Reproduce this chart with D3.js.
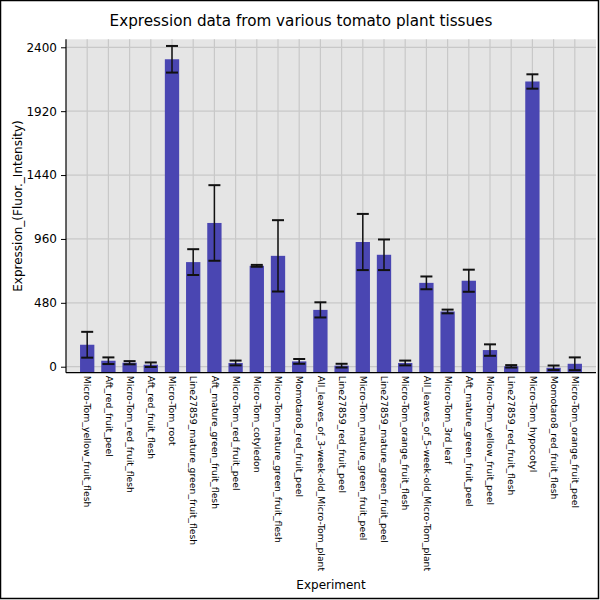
<!DOCTYPE html>
<html>
<head>
<meta charset="utf-8">
<script src="https://cdn.jsdelivr.net/npm/d3@7"></script>
<style>
body { margin: 0; background: #fff; }
svg text { font-family: "DejaVu Sans", sans-serif; }
</style>
</head>
<body>
<script>
const categories = [
  "Micro-Tom_yellow_fruit_flesh",
  "Aft_red_fruit_peel",
  "Micro-Tom_red_fruit_flesh",
  "Aft_red_fruit_flesh",
  "Micro-Tom_root",
  "Line27859_mature_green_fruit_flesh",
  "Aft_mature_green_fruit_flesh",
  "Micro-Tom_red_fruit_peel",
  "Micro-Tom_cotyledon",
  "Micro-Tom_mature_green_fruit_flesh",
  "Momotaro8_red_fruit_peel",
  "All_leaves_of_3-week-old_Micro-Tom_plant",
  "Line27859_red_fruit_peel",
  "Micro-Tom_mature_green_fruit_peel",
  "Line27859_mature_green_fruit_peel",
  "Micro-Tom_orange_fruit_flesh",
  "All_leaves_of_5-week-old_Micro-Tom_plant",
  "Micro-Tom_3rd_leaf",
  "Aft_mature_green_fruit_peel",
  "Micro-Tom_yellow_fruit_peel",
  "Line27859_red_fruit_flesh",
  "Micro-Tom_hypocotyl",
  "Momotaro8_red_fruit_flesh",
  "Micro-Tom_orange_fruit_peel"
];
const values = [165, 45, 30, 15, 2310, 786, 1080, 28, 758, 833, 40, 427, 8, 937, 841, 28, 630, 415, 646, 125, 3, 2143, -8, 22];
const errors = [97, 25, 12, 17, 100, 97, 284, 18, 7, 268, 18, 57, 14, 211, 115, 18, 48, 14, 83, 43, 9, 54, 17, 48];
const yTicks = [0, 480, 960, 1440, 1920, 2400];
const yDomain = [-45, 2460];

const W = 600, H = 600;
const pL = 66, pR = 596, pT = 39.3, pB = 372.7;

const svg = d3.select("body").append("svg").attr("width", W).attr("height", H);

svg.append("rect").attr("x", 0.5).attr("y", 0.5).attr("width", 598).attr("height", 598)
  .attr("fill", "#fff").attr("stroke", "#000").attr("stroke-width", 1.5);

const x = d3.scalePoint().domain(categories).range([pL, pR]).padding(1);
const y = d3.scaleLinear().domain(yDomain).range([pB, pT]);

// panel
svg.append("rect").attr("x", pL).attr("y", pT).attr("width", pR - pL).attr("height", pB - pT)
  .attr("fill", "#e5e5e5");

// grid
svg.append("g").selectAll("line").data(yTicks).join("line")
  .attr("x1", pL).attr("x2", pR).attr("y1", d => y(d)).attr("y2", d => y(d))
  .attr("stroke", "#c8c8c8").attr("stroke-width", 1.2);
svg.append("g").selectAll("line").data(categories).join("line")
  .attr("x1", d => x(d)).attr("x2", d => x(d)).attr("y1", pT).attr("y2", pB)
  .attr("stroke", "#c8c8c8").attr("stroke-width", 1.2);

const data = categories.map((c, i) => ({ c, v: values[i], e: errors[i] }));
const bw = x.step() * 0.675;

svg.append("g").selectAll("rect").data(data).join("rect")
  .attr("x", d => x(d.c) - bw / 2).attr("width", bw)
  .attr("y", d => y(d.v)).attr("height", d => y(yDomain[0]) - y(d.v))
  .attr("fill", "#4a46b2");

// error bars
const eg = svg.append("g").attr("stroke", "#111");
eg.selectAll("line.v").data(data).join("line").attr("class", "v")
  .attr("x1", d => x(d.c)).attr("x2", d => x(d.c))
  .attr("y1", d => y(d.v + d.e)).attr("y2", d => y(d.v - d.e))
  .attr("stroke-width", 1.5);
const cw = 6;
eg.selectAll("line.t").data(data).join("line").attr("class", "t")
  .attr("x1", d => x(d.c) - cw).attr("x2", d => x(d.c) + cw)
  .attr("y1", d => y(d.v + d.e)).attr("y2", d => y(d.v + d.e))
  .attr("stroke-width", 2);
eg.selectAll("line.b").data(data).join("line").attr("class", "b")
  .attr("x1", d => x(d.c) - cw).attr("x2", d => x(d.c) + cw)
  .attr("y1", d => y(d.v - d.e)).attr("y2", d => y(d.v - d.e))
  .attr("stroke-width", 2);

// y axis
const ya = svg.append("g").attr("transform", `translate(${pL},0)`)
  .call(d3.axisLeft(y).tickValues(yTicks).tickFormat(d3.format("d")).tickSize(5).tickPadding(4));
ya.select(".domain").attr("stroke", "#000").attr("stroke-width", 1.2).attr("d", `M0,${pT}V${pB}`);
ya.selectAll(".tick text").attr("font-size", 12).attr("fill", "#000").attr("font-family", "DejaVu Sans");
ya.selectAll(".tick line").attr("stroke", "#000");

// x axis
const xa = svg.append("g").attr("transform", `translate(0,${pB})`)
  .call(d3.axisBottom(x).tickSize(0).tickPadding(0));
xa.select(".domain").attr("stroke", "#000").attr("stroke-width", 1.2).attr("d", `M${pL},0H${pR}`);
xa.selectAll(".tick text")
  .attr("font-size", 9.3).attr("fill", "#000").attr("font-family", "DejaVu Sans")
  .attr("text-anchor", "start")
  .attr("transform", "rotate(90)")
  .attr("x", 3).attr("y", 0).attr("dy", "0.35em");

// titles
svg.append("text").attr("x", 301).attr("y", 26).attr("text-anchor", "middle")
  .attr("font-size", 15.2).text("Expression data from various tomato plant tissues");
svg.append("text").attr("x", (pL + pR) / 2).attr("y", 589).attr("text-anchor", "middle")
  .attr("font-size", 12).text("Experiment");
svg.append("text").attr("transform", `translate(22,${(pT + pB) / 2}) rotate(-90)`)
  .attr("text-anchor", "middle").attr("font-size", 12).text("Expression_(Fluor._Intensity)");
</script>
</body>
</html>
